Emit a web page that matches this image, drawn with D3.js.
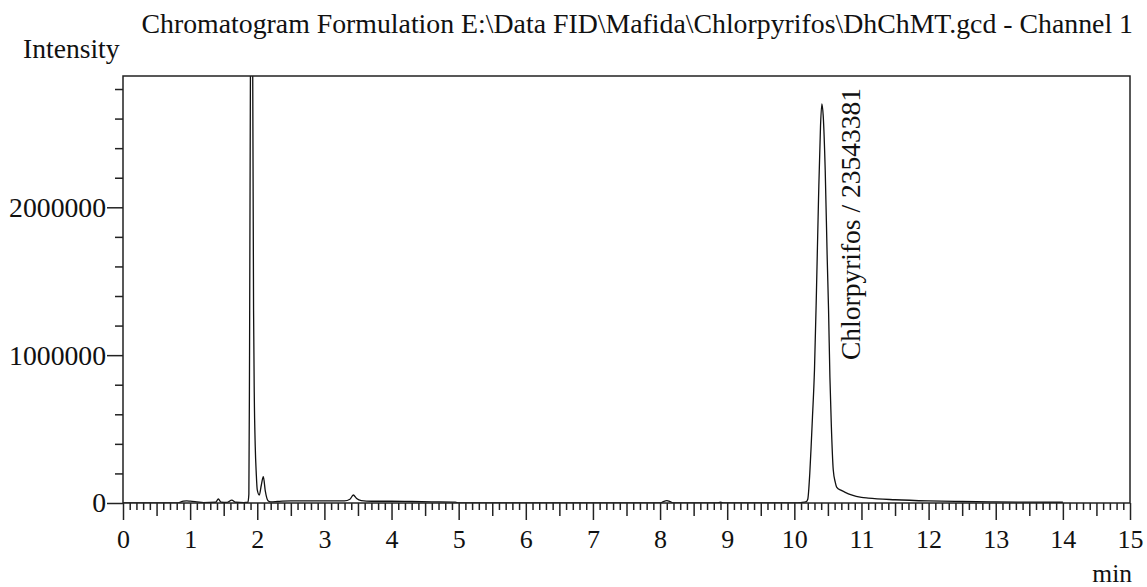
<!DOCTYPE html>
<html><head><meta charset="utf-8">
<script src="https://cdn.jsdelivr.net/npm/d3@7"></script>
<style>
html,body{margin:0;padding:0;background:#fff;}
svg{display:block;}
text{font-family:"Liberation Serif","Times New Roman",serif;fill:#111;}
</style></head>
<body>
<svg id="chart" width="1147" height="587"></svg>
<script>
const titleText = "Chromatogram Formulation E:\\Data FID\\Mafida\\Chlorpyrifos\\DhChMT.gcd - Channel 1";
const yAxisTitle = "Intensity";
const xAxisTitle = "min";
const peakLabel = "Chlorpyrifos / 23543381";
const peakLabelTime = 10.41;

const xMajorTicks = [0,1,2,3,4,5,6,7,8,9,10,11,12,13,14,15];
const yMajorTicks = [0, 1000000, 2000000];
const yMinorTicks = [200000,400000,600000,800000,1200000,1400000,1600000,1800000,2200000,2400000,2600000,2800000];

const timeMin = [0, 0.8, 0.9, 0.95, 1.0, 1.1, 1.2, 1.38, 1.42, 1.46, 1.55, 1.62, 1.68, 1.8, 1.86, 1.875, 1.885, 1.90, 1.915, 1.93, 1.945, 1.955, 1.97, 1.985, 2.0, 2.03, 2.06, 2.09, 2.12, 2.16, 2.2, 2.3, 2.5, 3.0, 3.3, 3.38, 3.43, 3.48, 3.55, 3.7, 4.0, 4.3, 4.6, 4.95, 5.0, 6.0, 7.0, 8.0, 8.05, 8.1, 8.15, 8.2, 8.85, 8.9, 8.95, 10.0, 10.10, 10.18, 10.20, 10.23, 10.25, 10.27, 10.30, 10.33, 10.36, 10.39, 10.41, 10.43, 10.46, 10.49, 10.51, 10.53, 10.55, 10.58, 10.61, 10.63, 10.70, 10.75, 10.85, 11.0, 11.1, 11.5, 12.0, 12.5, 13.0, 13.5, 14.0];
const intensity = [0, 0, 12000, 14000, 12000, 8000, 3000, 5000, 27000, 6000, 4000, 20000, 5000, 3000, 5000, 60000, 1000000, 3200000, 4500000, 3200000, 1300000, 750000, 380000, 200000, 88000, 54000, 120000, 178000, 80000, 15000, 8000, 10000, 15000, 15000, 14000, 25000, 54000, 30000, 16000, 12000, 12000, 10000, 8000, 6000, 0, 0, 0, 0, 10000, 16000, 10000, 0, 0, 5000, 0, 0, 3000, 10000, 25000, 200000, 380000, 580000, 900000, 1440000, 2050000, 2550000, 2700000, 2620000, 2250000, 1650000, 1300000, 850000, 540000, 223000, 140000, 108000, 85000, 74000, 55000, 38000, 33000, 22000, 14000, 10000, 7000, 6000, 5000];

const mLeft = 123, mRight = 1130, mTop = 76, mBottom = 503;
const svg = d3.select("#chart");

const x = d3.scaleLinear().domain([0, 15]).range([mLeft, mRight]);
const y = d3.scaleLinear().domain([0, 2888000]).range([mBottom, mTop]);

svg.append("defs").append("clipPath").attr("id","clip")
  .append("rect").attr("x", mLeft).attr("y", mTop).attr("width", mRight-mLeft).attr("height", mBottom-mTop);

// data line
const pts = timeMin.map((t,i)=>[t, intensity[i]]);
const line = d3.line().x(d=>x(d[0])).y(d=>y(d[1])).curve(d3.curveMonotoneX);
svg.append("path").datum(pts).attr("d", line).attr("clip-path","url(#clip)")
  .attr("fill","none").attr("stroke","#111").attr("stroke-width",1.3).attr("stroke-linejoin","round");

// frame
svg.append("rect").attr("x", mLeft).attr("y", mTop).attr("width", mRight-mLeft).attr("height", mBottom-mTop)
  .attr("fill","none").attr("stroke","#222").attr("stroke-width",1.5);

// x axis ticks
const minorX = d3.range(0, 151).filter(i=>i%5!==0).map(i=>i/10);
const halfX = d3.range(0, 15).map(i=>i+0.5);
function styleAxis(g){ g.select(".domain").remove(); g.selectAll("line").attr("stroke","#222").attr("stroke-width",1.5); }
svg.append("g").attr("transform",`translate(0,${mBottom})`)
  .call(d3.axisBottom(x).tickValues(minorX).tickSize(7).tickFormat("")).call(styleAxis);
svg.append("g").attr("transform",`translate(0,${mBottom})`)
  .call(d3.axisBottom(x).tickValues(halfX).tickSize(13).tickFormat("")).call(styleAxis);
const xg = svg.append("g").attr("transform",`translate(0,${mBottom})`)
  .call(d3.axisBottom(x).tickValues(xMajorTicks).tickSize(17).tickPadding(10).tickFormat(d3.format("d"))).call(styleAxis);
xg.selectAll("text").attr("font-size", 26).attr("font-family", "Liberation Serif").attr("fill","#111");

// y axis ticks
svg.append("g").attr("transform",`translate(${mLeft},0)`)
  .call(d3.axisLeft(y).tickValues(yMinorTicks).tickSize(8).tickFormat("")).call(styleAxis);
const yg = svg.append("g").attr("transform",`translate(${mLeft},0)`)
  .call(d3.axisLeft(y).tickValues(yMajorTicks).tickSize(16).tickPadding(1).tickFormat(d3.format("d"))).call(styleAxis);
yg.selectAll("text").attr("font-size", 27.7).attr("font-family", "Liberation Serif").attr("fill","#111");

// titles
svg.append("text").attr("x", 1133).attr("y", 33).attr("text-anchor","end").attr("font-size", 27.8).text(titleText);
svg.append("text").attr("x", 23).attr("y", 58).attr("font-size", 27.6).text(yAxisTitle);
svg.append("text").attr("x", 1132).attr("y", 582).attr("text-anchor","end").attr("font-size", 25.5).text(xAxisTitle);

// peak label
svg.append("text").attr("transform", `translate(${x(peakLabelTime)+38},360) rotate(-90)`)
  .attr("font-size", 27.5).text(peakLabel);
</script>
</body></html>
